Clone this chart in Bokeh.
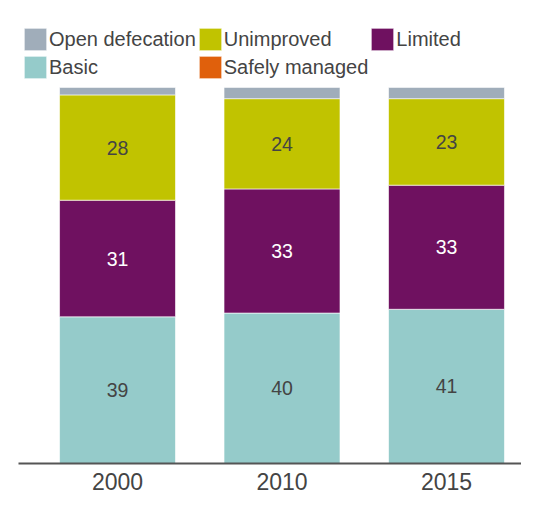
from bokeh.plotting import figure
from bokeh.models import Legend, LegendItem, FixedTicker, ColumnDataSource
from bokeh.embed import file_html
from bokeh.resources import INLINE
from bokeh.core.properties import value

years = ["2000", "2010", "2015"]
safely_managed = [0, 0, 0]
basic = [39, 40, 41]
limited = [31, 33, 33]
unimproved = [28, 24, 23]
open_defecation = [2, 3, 3]

series = [
    ("Safely managed", safely_managed, "#E0600C", "#444444"),
    ("Basic", basic, "#95CBCA", "#444444"),
    ("Limited", limited, "#6F1160", "#FFFFFF"),
    ("Unimproved", unimproved, "#C1C300", "#444444"),
    ("Open defecation", open_defecation, "#A0ADBA", "#444444"),
]
legend_order = ["Open defecation", "Unimproved", "Limited", "Basic", "Safely managed"]

FONT = "Liberation Sans"
xs = list(range(len(years)))

p = figure(width=521, height=497, output_backend="svg", toolbar_location=None,
           x_range=(-0.602, 2.456), y_range=(0, 123.1),
           min_border_left=18, min_border_right=0, min_border_top=0, min_border_bottom=34)
p.outline_line_color = None
p.xgrid.visible = False
p.ygrid.visible = False
p.yaxis.visible = False
p.background_fill_color = "white"
p.border_fill_color = "white"

xa = p.xaxis[0]
xa.ticker = FixedTicker(ticks=xs)
xa.major_label_overrides = {i: y for i, y in zip(xs, years)}
xa.major_tick_line_color = None
xa.minor_tick_line_color = None
xa.axis_line_color = "#555555"
xa.axis_line_width = 2
xa.major_label_text_font = FONT
xa.major_label_text_font_size = "23px"
xa.major_label_text_color = "#444444"
xa.major_label_standoff = 3

renderers = {}
bottom = [0] * len(years)
for name, vals, color, tcolor in series:
    top = [b + v for b, v in zip(bottom, vals)]
    src = ColumnDataSource(dict(x=xs, bottom=bottom, top=top,
                                mid=[(b + t) / 2 for b, t in zip(bottom, top)],
                                label=[str(v) for v in vals]))
    r = p.vbar(x="x", bottom="bottom", top="top", width=0.705, source=src,
               fill_color=color, line_color="white", line_width=1, line_alpha=0.6)
    renderers[name] = r
    if name in ("Basic", "Limited", "Unimproved"):
        p.text(x="x", y="mid", text="label", source=src, text_align="center",
               text_baseline="middle", text_font=value(FONT),
               text_font_size="19.5px", text_color=tcolor)
    bottom = top

items = [LegendItem(label=n, renderers=[renderers[n]]) for n in legend_order]
legend = Legend(items=items, orientation="horizontal", ncols=3,
                location=(3, 382), padding=0, margin=0, spacing=-3,
                glyph_width=28, glyph_height=28, label_height=28,
                label_standoff=0, border_line_color=None,
                background_fill_alpha=0,
                label_text_font=FONT, label_text_font_size="20px",
                label_text_color="#444444")
p.add_layout(legend)

open("out.html", "w").write(file_html(p, INLINE))
